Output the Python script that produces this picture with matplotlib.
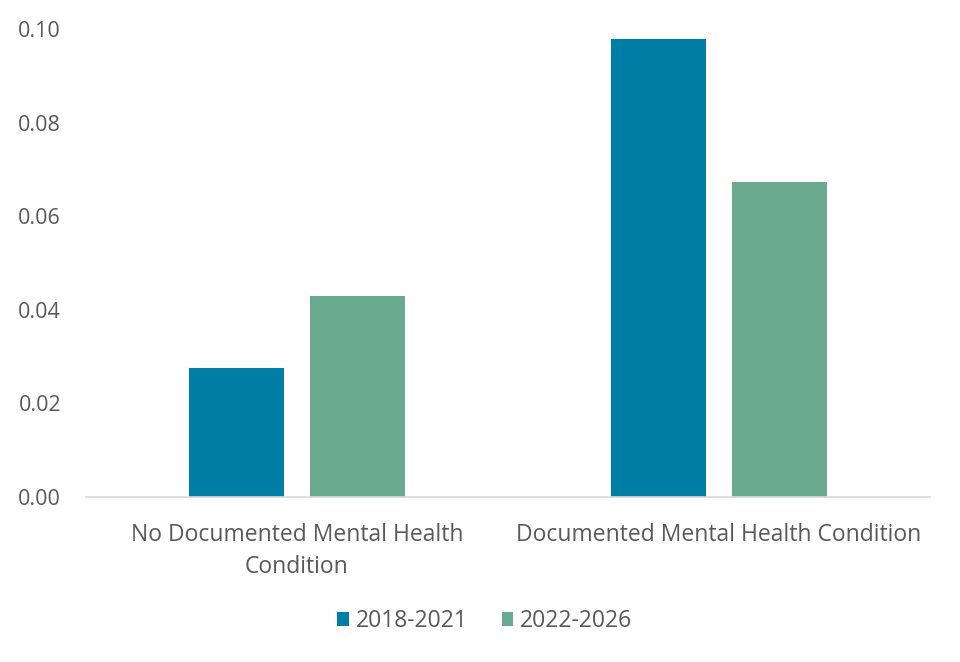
import numpy as np
import matplotlib as mpl
import matplotlib.pyplot as plt

# chart data
categories = ["No Documented Mental Health\nCondition", "Documented Mental Health Condition"]
series_names = ["2018-2021", "2022-2026"]
values_2018_2021 = [0.0275, 0.0978]
values_2022_2026 = [0.0429, 0.0674]
y_ticks = [0.00, 0.02, 0.04, 0.06, 0.08, 0.10]

colors = ["#007FA6", "#6AAB8F"]
text_color = "#595959"

plt.rcParams["font.family"] = ["Open Sans", "DejaVu Sans"]

fig = plt.figure(figsize=(9.6, 6.62), dpi=100)
ax = fig.add_axes([86 / 960, 1 - 497 / 662, 844 / 960, 468 / 662])

x = np.arange(len(categories))
width = 0.225
offset = 0.1435
ax.bar(x - offset, values_2018_2021, width, color=colors[0], label=series_names[0])
ax.bar(x + offset, values_2022_2026, width, color=colors[1], label=series_names[1])

ax.set_xlim(-0.5, len(categories) - 0.5)
ax.set_ylim(0, 0.10)
ax.set_yticks(y_ticks)
ax.set_yticklabels(["%.2f" % t for t in y_ticks])
ax.set_xticks(x)
ax.set_xticklabels(categories, linespacing=1.45)

ax.tick_params(axis="both", length=0, colors=text_color)
ax.tick_params(axis="y", pad=18, labelsize=15.5)
ax.tick_params(axis="x", pad=19, labelsize=16.5)

# only the baseline is drawn
for side in ["top", "right", "left"]:
    ax.spines[side].set_visible(False)
ax.spines["bottom"].set_color("#D9D9D9")
ax.spines["bottom"].set_linewidth(1.2)

fig.legend(
    loc="center",
    bbox_to_anchor=(0.505, 1 - 621 / 662),
    ncol=2,
    frameon=False,
    fontsize=16.5,
    labelcolor=text_color,
    handlelength=0.5,
    handleheight=0.6,
    handletextpad=0.3,
    columnspacing=1.5,
)

fig.savefig("out.png", dpi=100, facecolor="white")
